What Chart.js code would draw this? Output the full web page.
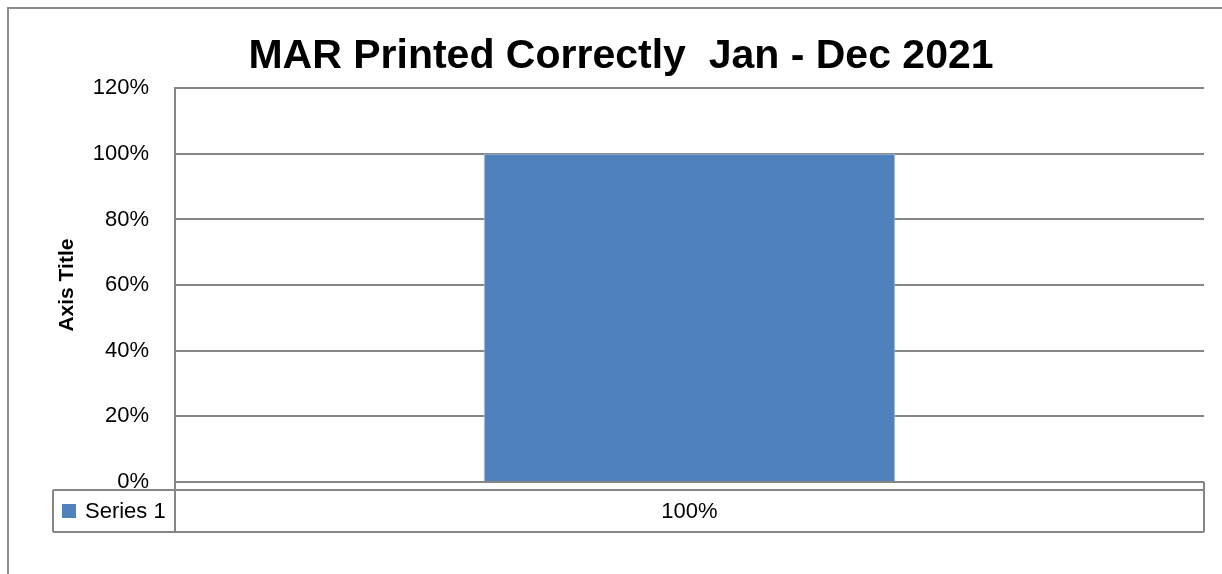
<!DOCTYPE html>
<html>
<head>
<meta charset="utf-8">
<script src="https://cdn.jsdelivr.net/npm/chart.js@4/dist/chart.umd.min.js"></script>
<style>
  html, body { margin: 0; padding: 0; background: #fff; }
  #wrap { width: 1222px; height: 574px; position: relative; }
</style>
</head>
<body>
<div id="wrap"><canvas id="chart" width="1222" height="574"></canvas></div>
<script>
const chartTitle = 'MAR Printed Correctly  Jan - Dec 2021';
const categories = [''];
const seriesName = 'Series 1';
const seriesValues = [100];
const yTitle = 'Axis Title';
const yMax = 120;
const yStep = 20;

const FONT = '"Liberation Sans", Arial, sans-serif';
const LINE = '#868686';
const BLUE = '#4F81BD';

// outer frame + data table under the plot
const tablePlugin = {
  id: 'dataTable',
  beforeDraw(chart) {
    const c = chart.ctx;
    c.save();
    c.fillStyle = '#fff';
    c.fillRect(0, 0, chart.width, chart.height);
    c.strokeStyle = '#8c8c8c';
    c.lineWidth = 2;
    c.strokeRect(8, 8, 1400, 800);
    c.restore();
  },
  afterDraw(chart) {
    const c = chart.ctx;
    const x = chart.scales.x;
    const area = chart.chartArea;
    const left = 53;
    const top = area.bottom + 8;
    const bottom = area.bottom + 50;
    c.save();
    c.strokeStyle = LINE;
    c.lineWidth = 2;
    c.beginPath();
    c.moveTo(left, top); c.lineTo(area.right, top);
    c.moveTo(left, bottom); c.lineTo(area.right, bottom);
    c.moveTo(left, top); c.lineTo(left, bottom);
    c.moveTo(area.left, area.top); c.lineTo(area.left, bottom);
    c.moveTo(area.right, area.bottom); c.lineTo(area.right, bottom);
    c.stroke();

    const midY = (top + bottom) / 2;
    c.fillStyle = BLUE;
    c.fillRect(62, midY - 7, 14, 14);
    c.fillStyle = '#000';
    c.font = '22px ' + FONT;
    c.textBaseline = 'middle';
    c.textAlign = 'left';
    c.fillText(seriesName, 85, midY + 1);
    c.textAlign = 'center';
    seriesValues.forEach((v, i) => {
      c.fillText(v + '%', x.getPixelForValue(i), midY + 1);
    });
    c.restore();
  }
};

new Chart(document.getElementById('chart'), {
  type: 'bar',
  data: {
    labels: categories,
    datasets: [{
      label: seriesName,
      data: seriesValues,
      backgroundColor: BLUE,
      borderColor: '#a9c0e0',
      borderWidth: 1,
      barPercentage: 1,
      categoryPercentage: 0.4
    }]
  },
  options: {
    responsive: false,
    animation: false,
    devicePixelRatio: 1,
    layout: { padding: { top: 0, right: 18, bottom: 42, left: 38 } },
    plugins: {
      legend: { display: false },
      tooltip: { enabled: false },
      title: {
        display: true,
        text: chartTitle,
        color: '#000',
        font: { family: FONT, size: 41, weight: 'bold' },
        padding: { top: 32, bottom: 7 }
      }
    },
    scales: {
      x: {
        grid: { display: false },
        border: { display: false },
        ticks: { display: false },
        afterFit(s) { s.height = 50; }
      },
      y: {
        min: 0,
        max: yMax,
        ticks: {
          stepSize: yStep,
          padding: 26,
          color: '#000',
          font: { family: FONT, size: 22 },
          callback: v => v + '%'
        },
        grid: { color: LINE, lineWidth: 2, drawTicks: false },
        border: { display: true, color: LINE, width: 2 },
        title: {
          display: true,
          text: yTitle,
          color: '#000',
          font: { family: FONT, size: 21, weight: 'bold' },
          padding: { top: 17, bottom: 0 }
        },
        afterFit(s) { s.width = 137; }
      }
    }
  },
  plugins: [tablePlugin]
});
</script>
</body>
</html>
